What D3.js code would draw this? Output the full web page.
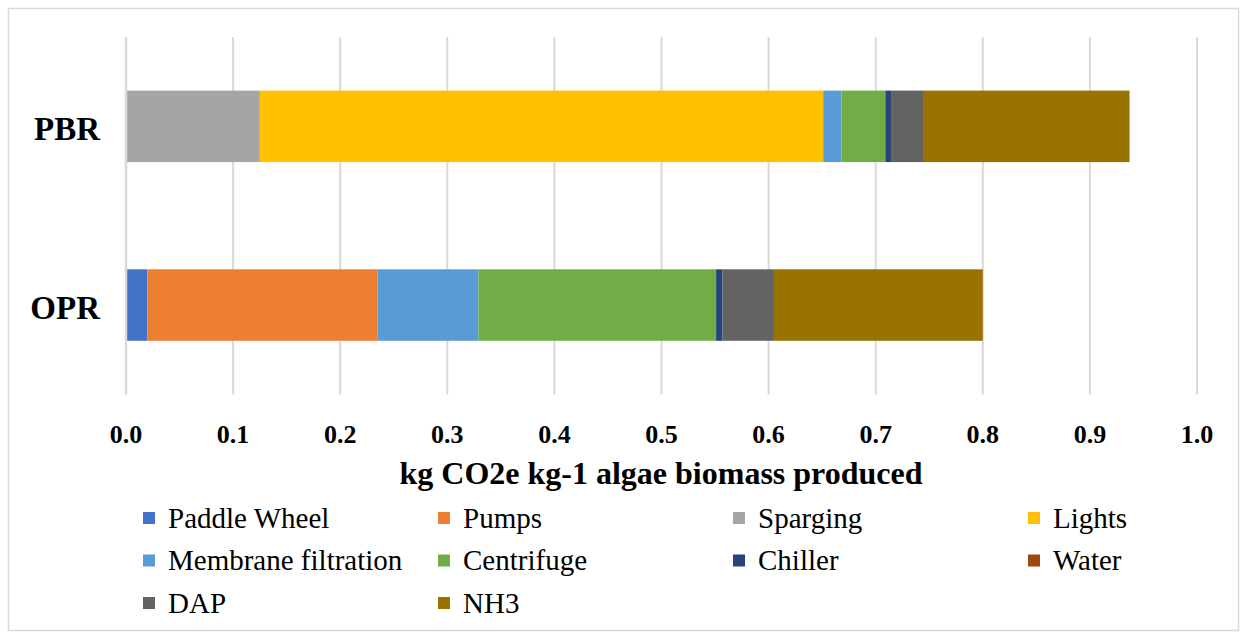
<!DOCTYPE html>
<html>
<head>
<meta charset="utf-8">
<script src="https://cdn.jsdelivr.net/npm/d3@7/dist/d3.min.js"></script>
<style>
  html, body { margin: 0; padding: 0; background: #fff; }
  svg { display: block; }
  .serif { font-family: "Liberation Serif", "Times New Roman", Times, serif; }
</style>
</head>
<body>
<script>
// ---- Data ----
const categories = ["PBR", "OPR"];
const seriesNames = ["Paddle Wheel", "Pumps", "Sparging", "Lights", "Membrane filtration",
                     "Centrifuge", "Chiller", "Water", "DAP", "NH3"];
const pbrValues = [0, 0, 0.125, 0.526, 0.017, 0.041, 0.006, 0, 0.030, 0.192];
const oprValues = [0.020, 0.215, 0, 0, 0.094, 0.222, 0.006, 0, 0.048, 0.195];
const seriesColors = ["#4472C4", "#ED7D31", "#A5A5A5", "#FFC000", "#5B9BD5",
                      "#70AD47", "#264478", "#9E480E", "#636363", "#997300"];
const tickValues = [0, 0.1, 0.2, 0.3, 0.4, 0.5, 0.6, 0.7, 0.8, 0.9, 1.0];
const axisTitle = "kg CO2e kg-1 algae biomass produced";

const W = 1246, H = 633;
const svg = d3.select("body").append("svg").attr("width", W).attr("height", H);

// border
svg.append("rect").attr("x", 8.5).attr("y", 8.5).attr("width", 1230).attr("height", 622)
  .attr("fill", "#fff").attr("stroke", "#d9d9d9").attr("stroke-width", 1.5);

const x = d3.scaleLinear().domain([0, 1]).range([126, 1197]);
const y = d3.scaleBand().domain(categories).range([37, 394.4]).paddingInner(0.6).paddingOuter(0.3);

// gridlines
svg.append("g").selectAll("line").data(tickValues.slice(1)).join("line")
  .attr("x1", d => x(d)).attr("x2", d => x(d))
  .attr("y1", 37).attr("y2", 394.4)
  .attr("stroke", "#d9d9d9").attr("stroke-width", 2);

// tick labels
svg.append("g").selectAll("text").data(tickValues).join("text")
  .attr("class", "serif")
  .attr("x", d => x(d)).attr("y", 443)
  .attr("text-anchor", "middle")
  .attr("font-weight", "bold").attr("font-size", 26)
  .attr("fill", "#000")
  .text(d => d3.format(".1f")(d));

// stacked bars
const rows = { PBR: pbrValues, OPR: oprValues };
const table = categories.map(c => {
  const o = { cat: c };
  seriesNames.forEach((s, i) => o[s] = rows[c][i]);
  return o;
});
const stack = d3.stack().keys(seriesNames)(table);
const gBars = svg.append("g");
stack.forEach((layer, i) => {
  gBars.append("g").attr("fill", seriesColors[i])
    .selectAll("rect").data(layer.filter(d => d[1] - d[0] > 0)).join("rect")
    .attr("x", d => x(d[0]))
    .attr("width", d => x(d[1]) - x(d[0]))
    .attr("y", d => y(d.data.cat))
    .attr("height", y.bandwidth());
});

// zero axis line
svg.append("line").attr("x1", x(0)).attr("x2", x(0)).attr("y1", 37).attr("y2", 394.4)
  .attr("stroke", "#d9d9d9").attr("stroke-width", 2.5);

// category labels
svg.append("g").selectAll("text").data(categories).join("text")
  .attr("class", "serif")
  .attr("x", 100).attr("y", d => y(d) + y.bandwidth() / 2 + 14)
  .attr("text-anchor", "end")
  .attr("font-weight", "bold").attr("font-size", 33)
  .attr("fill", "#000")
  .text(d => d);

// axis title
svg.append("text").attr("class", "serif").attr("x", 661).attr("y", 484)
  .attr("text-anchor", "middle")
  .attr("font-weight", "bold").attr("font-size", 32)
  .attr("fill", "#000")
  .text(axisTitle);

// legend
const legend = svg.append("g");
seriesNames.forEach((s, i) => {
  const col = i % 4, row = Math.floor(i / 4);
  const lx = 143 + col * 295, ly = 518 + row * 42.5;
  legend.append("rect").attr("x", lx).attr("y", ly - 6).attr("width", 12).attr("height", 12)
    .attr("fill", seriesColors[i]);
  legend.append("text").attr("class", "serif").attr("x", lx + 25).attr("y", ly + 9.5)
    .attr("font-weight", "normal")
    .attr("font-size", 29).attr("fill", "#000")
    .text(s);
});
</script>
</body>
</html>
